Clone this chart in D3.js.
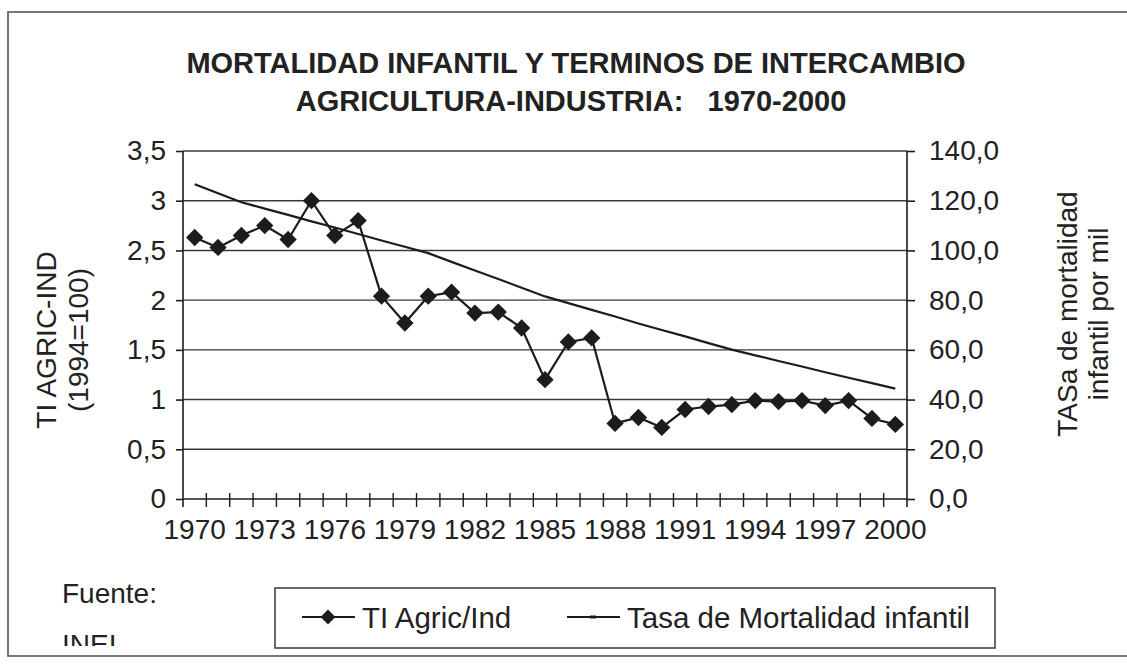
<!DOCTYPE html>
<html>
<head>
<meta charset="utf-8">
<script src="https://cdn.jsdelivr.net/npm/d3@7"></script>
<style>
  body { margin: 0; background: #fff; }
  text { font-family: "Liberation Sans", Arial, sans-serif; fill: #222; }
</style>
</head>
<body>
<svg id="chart" width="1127" height="666"></svg>
<script>
// years on the category axis
const years = d3.range(1970, 2001);

// TI Agric/Ind (1994=100), left axis
const tiAgric = [2.63, 2.53, 2.65, 2.75, 2.61, 3.0, 2.65, 2.80, 2.04, 1.77,
                 2.04, 2.08, 1.87, 1.88, 1.72, 1.20, 1.58, 1.62, 0.76, 0.82,
                 0.72, 0.90, 0.93, 0.95, 0.99, 0.98, 0.99, 0.94, 0.99, 0.81, 0.75];

// infant mortality per thousand, right axis
const mortalidad = [126.6, 123.0, 119.4, 116.8, 114.3, 111.7, 109.2, 106.6, 104.0, 101.5,
                    98.9, 95.4, 91.9, 88.5, 85.0, 81.5, 78.8, 76.1, 73.4, 70.6,
                    68.0, 65.4, 62.7, 60.1, 57.8, 55.5, 53.3, 51.0, 48.8, 46.6, 44.4];

const leftTicks = [0, 0.5, 1, 1.5, 2, 2.5, 3, 3.5];
const rightTicks = [0, 20, 40, 60, 80, 100, 120, 140];
const labelYears = years.filter((d, i) => i % 3 === 0);

const svg = d3.select("#chart");
const ink = "#1c1c1c";

// outer chart frame
svg.append("rect")
    .attr("x", 8).attr("y", 12)
    .attr("width", 1140).attr("height", 644)
    .attr("fill", "none").attr("stroke", "#555").attr("stroke-width", 1.6);

// title
const title = svg.append("text")
    .attr("text-anchor", "middle")
    .style("font-weight", "bold").style("font-size", "29px")
    .attr("xml:space", "preserve");
title.append("tspan").attr("x", 576).attr("y", 73)
    .text("MORTALIDAD INFANTIL Y TERMINOS DE INTERCAMBIO");
title.append("tspan").attr("x", 571).attr("y", 111)
    .text("AGRICULTURA-INDUSTRIA:   1970-2000");

const plotL = 183, plotR = 907, plotT = 151, plotB = 499;

let x = d3.scaleBand().domain(years).range([plotL, plotR]);
let xc = d => x(d) + x.bandwidth() / 2;
let yL = d3.scaleLinear().domain([0, 3.5]).range([plotB, plotT]);
let yR = d3.scaleLinear().domain([0, 140]).range([plotB, plotT]);

// gridlines
svg.append("g").selectAll("line")
    .data(leftTicks.slice(1))
    .enter().append("line")
    .attr("x1", plotL).attr("x2", plotR)
    .attr("y1", d => yL(d)).attr("y2", d => yL(d))
    .attr("stroke", "#3a3a3a").attr("stroke-width", 1.4);

let comma = d => String(d).replace(".", ",");

// left axis
let axL = svg.append("g").attr("transform", `translate(${plotL},0)`)
    .call(d3.axisLeft(yL).tickValues(leftTicks).tickSize(7).tickPadding(10).tickFormat(comma));
axL.select(".domain").attr("d", `M0,${plotT}V${plotB + 8}`);

// right axis
let axR = svg.append("g").attr("transform", `translate(${plotR},0)`)
    .call(d3.axisRight(yR).tickValues(rightTicks).tickSize(8).tickPadding(14)
        .tickFormat(d => d.toFixed(1).replace(".", ",")));
axR.select(".domain").attr("d", `M0,${plotT}V${plotB + 8}`);

// bottom axis: labels every third year, tick marks on category boundaries
let axB = svg.append("g").attr("transform", `translate(0,${plotB})`)
    .call(d3.axisBottom(x).tickValues(labelYears).tickSize(0).tickPadding(20));
axB.select(".domain").attr("d", `M${plotL},0H${plotR}`);
svg.append("g").selectAll("line")
    .data(years.slice(1))
    .enter().append("line")
    .attr("x1", d => x(d)).attr("x2", d => x(d))
    .attr("y1", plotB - 6).attr("y2", plotB + 8)
    .attr("stroke", ink).attr("stroke-width", 1.4);

svg.selectAll(".tick text").style("font-size", "28px").attr("fill", "#222")
    .style("font-family", "'Liberation Sans', Arial, sans-serif");
svg.selectAll(".domain, .tick line").attr("stroke", ink).attr("stroke-width", 1.6);

// axis titles
let tl = svg.append("text").attr("transform", "translate(56,340) rotate(-90)")
    .attr("text-anchor", "middle").style("font-size", "28px");
tl.append("tspan").attr("x", 0).attr("y", 0).text("TI AGRIC-IND");
tl.append("tspan").attr("x", 0).attr("y", 32).text("(1994=100)");

let tr = svg.append("text").attr("transform", "translate(1077,314) rotate(-90)")
    .attr("text-anchor", "middle").style("font-size", "28px");
tr.append("tspan").attr("x", 0).attr("y", 0).text("TASa de mortalidad");
tr.append("tspan").attr("x", 0).attr("y", 31).text("infantil por mil");

// mortality line
svg.append("path")
    .datum(mortalidad)
    .attr("fill", "none").attr("stroke", ink).attr("stroke-width", 2.2)
    .attr("d", d3.line().x((d, i) => xc(years[i])).y(d => yR(d)));

// TI line with diamond markers
svg.append("path")
    .datum(tiAgric)
    .attr("fill", "none").attr("stroke", ink).attr("stroke-width", 2.2)
    .attr("d", d3.line().x((d, i) => xc(years[i])).y(d => yL(d)));

let diamond = d3.symbol().type(d3.symbolSquare).size(150);
svg.append("g").selectAll("path")
    .data(tiAgric)
    .enter().append("path")
    .attr("d", diamond)
    .attr("transform", (d, i) => `translate(${xc(years[i])},${yL(d)}) rotate(45)`)
    .attr("fill", ink);

// source note, cut off by the chart area
svg.append("clipPath").attr("id", "clip").append("rect")
    .attr("x", 0).attr("y", 0).attr("width", 1127).attr("height", 646);
let src = svg.append("text").attr("clip-path", "url(#clip)").style("font-size", "28px");
src.append("tspan").attr("x", 62).attr("y", 603).text("Fuente:");
src.append("tspan").attr("x", 62).attr("y", 654).text("INEI");

// legend
let lg = svg.append("g");
lg.append("rect").attr("x", 275).attr("y", 588).attr("width", 720).attr("height", 60)
    .attr("fill", "#fff").attr("stroke", "#444").attr("stroke-width", 1.6);
lg.append("line").attr("x1", 302).attr("x2", 355).attr("y1", 617).attr("y2", 617)
    .attr("stroke", ink).attr("stroke-width", 2.2);
lg.append("path").attr("d", d3.symbol().type(d3.symbolSquare).size(110))
    .attr("transform", "translate(328,617) rotate(45)").attr("fill", ink);
lg.append("text").attr("x", 362).attr("y", 628).style("font-size", "29.5px").text("TI Agric/Ind");
lg.append("line").attr("x1", 567).attr("x2", 620).attr("y1", 617).attr("y2", 617)
    .attr("stroke", ink).attr("stroke-width", 2.2);
lg.append("rect").attr("x", 590).attr("y", 615.5).attr("width", 6).attr("height", 3).attr("fill", ink);
lg.append("text").attr("x", 627).attr("y", 628).style("font-size", "29.5px").text("Tasa de Mortalidad infantil");
</script>
</body>
</html>
